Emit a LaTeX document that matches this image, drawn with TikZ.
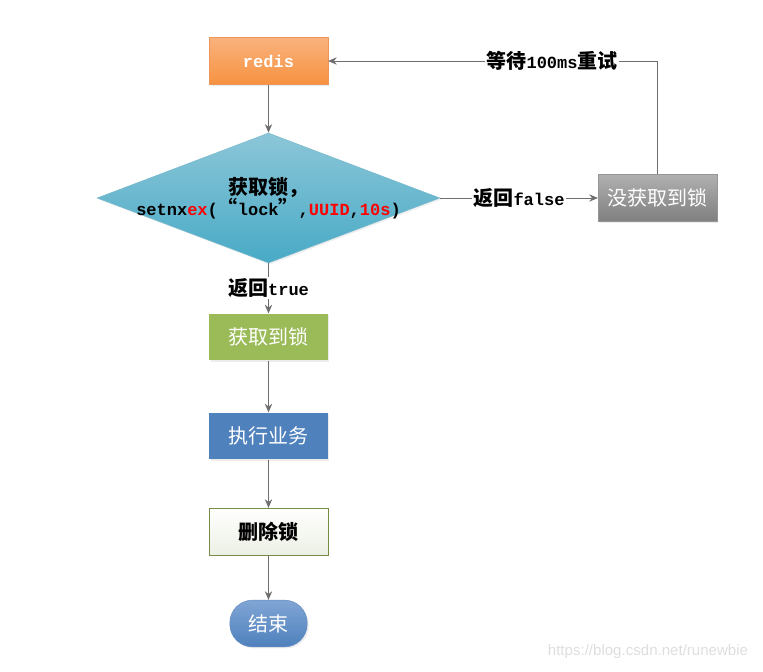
\documentclass[tikz,border=0pt]{standalone}
\usepackage{fontspec}
\setmainfont{Noto Sans CJK SC}
\newfontfamily\codefont[Scale=0.85]{Liberation Mono}
\newfontfamily\markfont{Liberation Sans}
\usetikzlibrary{shapes.geometric, shadows, arrows.meta}
\definecolor{redistop}{RGB}{250,178,125}
\definecolor{redisorange}{RGB}{246,146,64}
\definecolor{redisedge}{RGB}{236,150,90}
\definecolor{locktop}{RGB}{140,198,216}
\definecolor{lockblue}{RGB}{72,170,198}
\definecolor{lockedge}{RGB}{120,185,205}
\definecolor{misstop}{RGB}{175,175,175}
\definecolor{missgrey}{RGB}{128,128,128}
\definecolor{missedge}{RGB}{150,150,150}
\definecolor{gaingreen}{RGB}{155,187,89}
\definecolor{taskblue}{RGB}{79,129,189}
\definecolor{unlockfill}{RGB}{236,240,228}
\definecolor{unlockedge}{RGB}{119,140,70}
\definecolor{finishtop}{RGB}{128,165,212}
\definecolor{finishedge}{RGB}{100,140,195}
\definecolor{linegrey}{RGB}{110,110,110}
\definecolor{markgrey}{RGB}{222,222,222}

\begin{document}
\begin{tikzpicture}[x=0.75pt, y=-0.75pt, >={Stealth[length=6.5pt, width=5.5pt]}]

	\tikzstyle{box}=[rectangle, minimum width=89pt, minimum height=35pt, inner sep=0pt, text=white, font=\fontsize{15}{18}\selectfont, drop shadow={opacity=0.15, shadow xshift=1.2pt, shadow yshift=-1.2pt}]
	\tikzstyle{store}=[box, draw=redisedge, top color=redistop, bottom color=redisorange, font=\fontsize{15}{18}\selectfont\bfseries\codefont]
	\tikzstyle{decision}=[diamond, draw=lockedge, top color=locktop, bottom color=lockblue, minimum width=257pt, minimum height=97.5pt, inner sep=0pt, drop shadow={opacity=0.12, shadow xshift=1.2pt, shadow yshift=-1.2pt}]
	\tikzstyle{miss}=[box, draw=missedge, top color=misstop, bottom color=missgrey]
	\tikzstyle{gain}=[box, fill=gaingreen, drop shadow={opacity=0}]
	\tikzstyle{task}=[box, fill=taskblue, drop shadow={opacity=0}]
	\tikzstyle{unlockbox}=[box, draw=unlockedge, top color=white, bottom color=unlockfill, text=black, font=\fontsize{15}{18}\selectfont\bfseries]
	\tikzstyle{terminal}=[box, rounded corners=17pt, minimum width=58pt, draw=finishedge, top color=finishtop, bottom color=taskblue]
	\tikzstyle{flow}=[->, draw=linegrey, line width=0.75pt]
	\tikzstyle{tag}=[fill=white, inner sep=1pt, text=black, font=\fontsize{15}{18}\selectfont\bfseries]

	\useasboundingbox (0,0) rectangle (763,671);

	\node at (268.5,61) (redis) [store] {redis};
	\node at (268.5,198) (lock) [decision] {};
	\node at (lock) (locktext) [align=center, text=black, font=\fontsize{15}{16}\selectfont\bfseries] {获取锁，\\ {\codefont setnx\textcolor{red}{ex}(}“{\codefont lock}”{\codefont ,\textcolor{red}{UUID},\textcolor{red}{10s})}};
	\node at (657.5,198) (retry) [miss] {没获取到锁};
	\node at (268.5,337) (got) [gain] {获取到锁};
	\node at (268.5,436) (work) [task] {执行业务};
	\node at (268.5,531.5) (release) [unlockbox] {删除锁};
	\node at (268.5,623.5) (finish) [terminal] {结束};
	\node at (648,652) (mark) [text=markgrey, font=\markfont\fontsize{11.3}{13}\selectfont] {https://blog.csdn.net/runewbie};

	\draw[flow] (redis) -- (lock);
	\draw[flow] (lock) -- (retry) node[tag, midway] {返回{\codefont false}};
	\draw[flow] (retry) |- (redis) node[tag, pos=0.66] {等待{\codefont 100ms}重试};
	\draw[flow] (lock) -- (got) node[tag, midway] {返回{\codefont true}};
	\draw[flow] (got) -- (work);
	\draw[flow] (work) -- (release);
	\draw[flow] (release) -- (finish);
\end{tikzpicture}
\end{document}
